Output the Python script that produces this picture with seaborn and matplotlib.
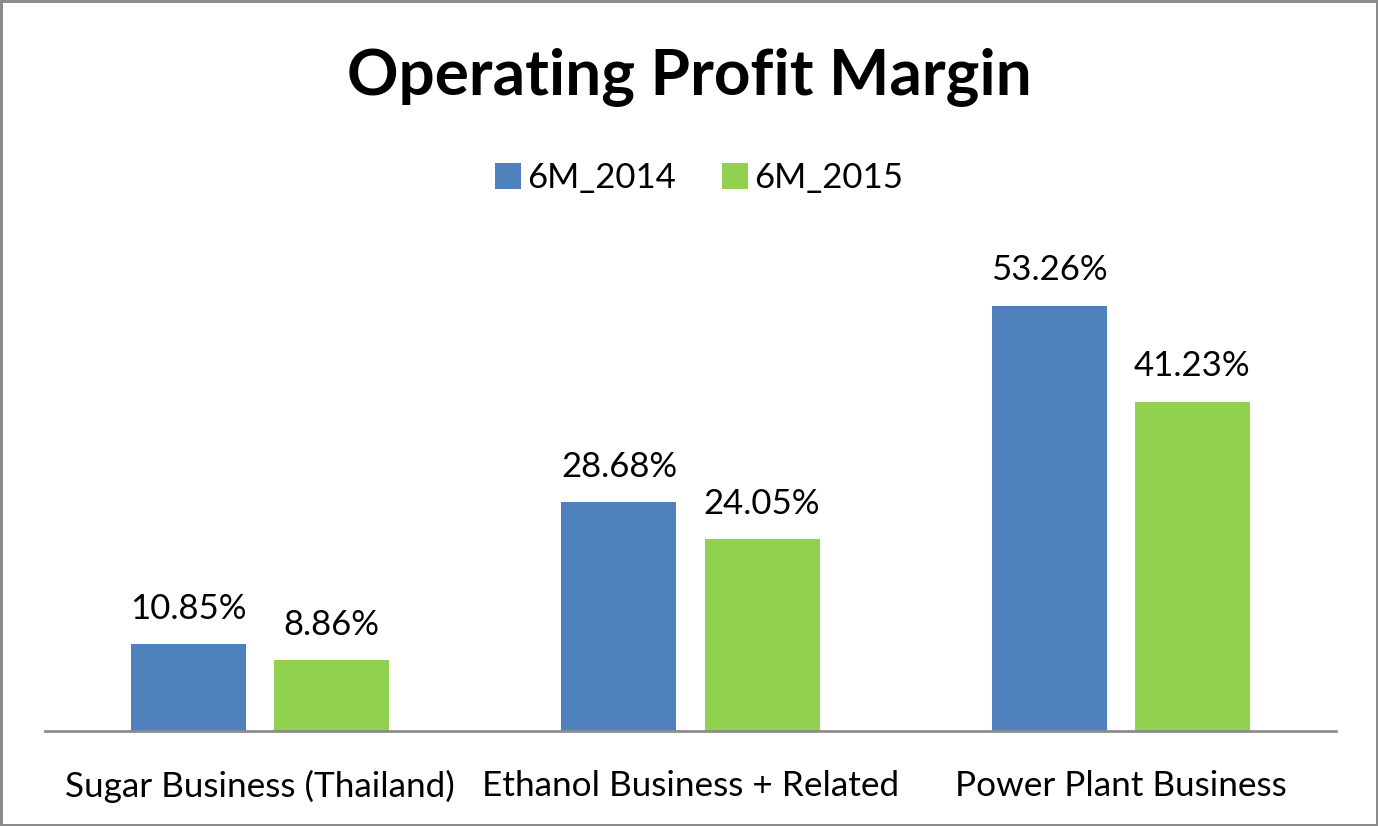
import matplotlib
matplotlib.use("Agg")
import matplotlib.pyplot as plt
import seaborn as sns
import pandas as pd

categories = ["Sugar Business (Thailand)", "Ethanol Business + Related", "Power Plant Business"]
series_names = ["6M_2014", "6M_2015"]
values_2014 = [10.85, 28.68, 53.26]
values_2015 = [8.86, 24.05, 41.23]
colors = ["#4F81BD", "#92D050"]

df = pd.DataFrame({
    "category": categories * 2,
    "series": [series_names[0]] * 3 + [series_names[1]] * 3,
    "value": values_2014 + values_2015,
})

sns.set_theme(style="white")
plt.rcParams["font.family"] = ["Lato", "DejaVu Sans"]

fig = plt.figure(figsize=(13.78, 8.26), dpi=100)
fig.patch.set_edgecolor("#8C8C8C")
fig.patch.set_linewidth(2.5)
ax = fig.add_axes([45 / 1378, 1 - 731 / 826, 1291 / 1378, 479 / 826])

sns.barplot(data=df, x="category", y="value", hue="series", order=categories,
            hue_order=series_names, palette=colors, width=0.665, gap=0.196,
            saturation=1, ax=ax, legend=True, edgecolor="none", linewidth=0)

ax.set_xlim(-0.5, 2.5)
ax.set_ylim(0, 60)
ax.set_xlabel("")
ax.set_ylabel("")
ax.set_yticks([])
for s in ["top", "right", "left"]:
    ax.spines[s].set_visible(False)
ax.spines["bottom"].set_color("#8C8C8C")
ax.spines["bottom"].set_linewidth(2)
ax.tick_params(axis="x", length=0, pad=28, labelsize=25.3)
for lbl in ax.get_xticklabels():
    lbl.set_color("black")

for cont in ax.containers:
    ax.bar_label(cont, labels=[f"{v:.2f}%" for v in cont.datavalues],
                 padding=14, fontsize=25, color="black")

leg = ax.legend(loc="center", bbox_to_anchor=(0.5 + 10 / 1378, 1 - 178 / 826),
                bbox_transform=fig.transFigure,
                ncol=2, frameon=False, fontsize=25, handlelength=0.75, handleheight=0.75,
                handletextpad=0.2, columnspacing=1.3)
for t in leg.get_texts():
    t.set_color("black")
for h in leg.legend_handles:
    h.set_edgecolor("none")

fig.text(0.5, 1 - 77 / 826, "Operating Profit Margin", ha="center", va="center",
         fontsize=46, fontweight="bold", color="black")

fig.savefig("out.png", dpi=100, edgecolor=fig.get_edgecolor())
